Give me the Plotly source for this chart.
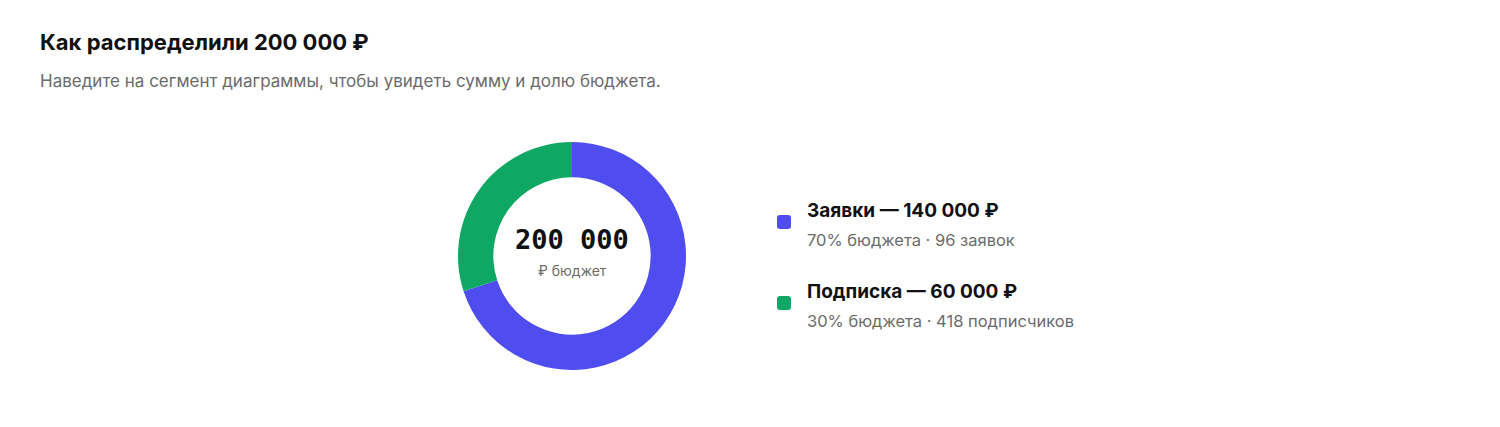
import plotly.graph_objects as go

# --- Data ---
labels = ["Заявки", "Подписка"]
amounts = [140000, 60000]
shares = [70, 30]
details = ["96 заявок", "418 подписчиков"]
colors = ["#4f4cf0", "#0ea864"]
total = 200000

W, H = 1500, 427
OX, OY = 8, 8  # page body margin
FONT = "Inter, 'Noto Sans', sans-serif"


def fmt(n):
    return f"{n:,}".replace(",", " ")


def px(x):
    return (x - OX) / W


def py(y):
    return 1 - (y - OY) / H


fig = go.Figure()

# donut
cx, cy, r = 572, 256, 114
fig.add_trace(go.Pie(
    labels=labels,
    values=amounts,
    hole=0.69,
    sort=False,
    direction="clockwise",
    rotation=0,
    marker=dict(colors=colors, line=dict(width=0)),
    textinfo="none",
    hovertemplate="%{label}<br>%{value:,} ₽ · %{percent}<extra></extra>",
    domain=dict(x=[px(cx - r), px(cx + r)], y=[py(cy + r), py(cy - r)]),
    showlegend=False,
))

annotations = [
    dict(x=px(38), y=py(42), text="<b>Как распределили " + fmt(total) + " ₽</b>",
         font=dict(size=22, color="#111111", family=FONT)),
    dict(x=px(38), y=py(81), text="Наведите на сегмент диаграммы, чтобы увидеть сумму и долю бюджета.",
         font=dict(size=17, color="#6b6b6b", family=FONT)),
]
for a in annotations:
    a.update(xref="paper", yref="paper", xanchor="left", yanchor="middle", showarrow=False)

# center label
annotations.append(dict(x=px(cx), y=py(239), xref="paper", yref="paper", showarrow=False,
                        text="<b>" + fmt(total) + "</b>",
                        font=dict(size=27, color="#111111", family="'DejaVu Sans Mono', monospace")))
annotations.append(dict(x=px(cx), y=py(270), xref="paper", yref="paper", showarrow=False,
                        text="₽ бюджет",
                        font=dict(size=14, color="#6b6b6b", family=FONT)))


def rounded_square(x0, y0, s, rad):
    # rounded square path in paper coords
    X = lambda v: px(v)
    Y = lambda v: py(v)
    x1, y1 = x0 + s, y0 + s
    return (f"M {X(x0 + rad)},{Y(y0)} L {X(x1 - rad)},{Y(y0)} Q {X(x1)},{Y(y0)} {X(x1)},{Y(y0 + rad)} "
            f"L {X(x1)},{Y(y1 - rad)} Q {X(x1)},{Y(y1)} {X(x1 - rad)},{Y(y1)} "
            f"L {X(x0 + rad)},{Y(y1)} Q {X(x0)},{Y(y1)} {X(x0)},{Y(y1 - rad)} "
            f"L {X(x0)},{Y(y0 + rad)} Q {X(x0)},{Y(y0)} {X(x0 + rad)},{Y(y0)} Z")


# custom legend
shapes = []
row_y = [210, 291]
for i, lab in enumerate(labels):
    y0 = row_y[i]
    shapes.append(dict(type="path", xref="paper", yref="paper",
                       path=rounded_square(777, y0 + 5, 14, 3),
                       fillcolor=colors[i], line=dict(width=0), layer="above"))
    annotations.append(dict(x=px(805), y=py(y0), xref="paper", yref="paper",
                            xanchor="left", yanchor="middle", showarrow=False,
                            text=f"<b>{lab} — {fmt(amounts[i])} ₽</b>",
                            font=dict(size=19, color="#111111", family=FONT)))
    annotations.append(dict(x=px(805), y=py(y0 + 30), xref="paper", yref="paper",
                            xanchor="left", yanchor="middle", showarrow=False,
                            text=f"{shares[i]}% бюджета · {details[i]}",
                            font=dict(size=16.5, color="#6b6b6b", family=FONT)))

fig.update_layout(
    width=W, height=H,
    margin=dict(l=0, r=0, t=0, b=0),
    paper_bgcolor="white",
    plot_bgcolor="white",
    annotations=annotations,
    shapes=shapes,
)

fig.write_html("out.html")
